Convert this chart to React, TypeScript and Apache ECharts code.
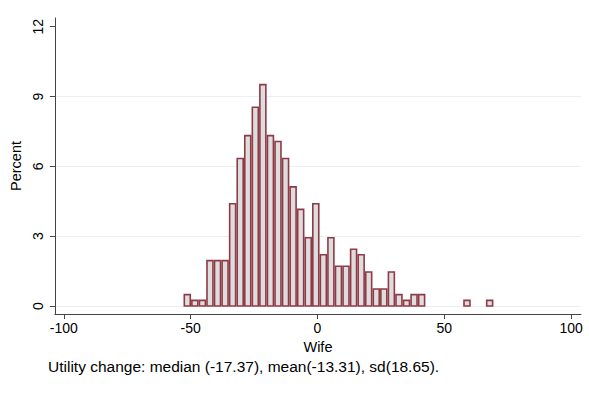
import React, { useEffect, useRef } from 'react';
import * as echarts from 'echarts';

// Histogram definition (Wife utility change)
const binStart = -52.8;
const binWidth = 2.98;
const percents = [
  0.49, 0.24, 0.24, 1.95, 1.95, 1.95, 4.39, 6.34, 7.32, 8.54, 9.51, 7.32, 7.07, 6.34,
  5.12, 4.15, 2.93, 4.39, 2.2, 2.93, 1.71, 1.71, 2.44, 2.2, 1.46, 0.73, 0.73, 1.46,
  0.49, 0.24, 0.49, 0.49, 0, 0, 0, 0, 0, 0.24, 0, 0, 0.24,
];
const xTicks = [-100, -50, 0, 50, 100];
const yTicks = [0, 3, 6, 9, 12];
const yGrid = [0, 3, 6, 9];
const caption = 'Utility change: median (-17.37), mean(-13.31), sd(18.65).';

const FONT = '"Liberation Sans", Arial, Helvetica, sans-serif';

export default function App() {
  const ref = useRef<HTMLDivElement>(null);
  useEffect(() => {
    if (!ref.current) return;
    const chart = echarts.init(ref.current, null, { renderer: 'svg' });
    const data: number[][] = [];
    percents.forEach((p, i) => {
      if (p > 0) data.push([binStart + i * binWidth, binStart + (i + 1) * binWidth, p]);
    });
    chart.setOption({
      animation: false,
      backgroundColor: '#ffffff',
      textStyle: { fontFamily: FONT },
      title: {
        text: caption,
        left: 43,
        top: 353,
        textStyle: { fontFamily: FONT, fontSize: 15.5, fontWeight: 'normal', color: '#000' },
      },
      grid: { left: 46, right: 8, top: 18, bottom: 92, containLabel: false },
      xAxis: {
        type: 'value',
        min: -103.5,
        max: 103.9,
        name: 'Wife',
        nameLocation: 'middle',
        nameGap: 24,
        nameTextStyle: { fontFamily: FONT, fontSize: 14.5, color: '#000' },
        axisLine: { show: true, onZero: false, lineStyle: { color: '#444', width: 1 } },
        axisTick: { show: true, length: 5, customValues: xTicks, lineStyle: { color: '#444' } },
        axisLabel: { customValues: xTicks, fontFamily: FONT, fontSize: 14, color: '#000', margin: 7 },
        splitLine: { show: false },
      },
      yAxis: [
        {
          type: 'value',
          min: -0.344,
          max: 12.374,
          name: 'Percent',
          nameLocation: 'middle',
          nameGap: 25,
          nameTextStyle: { fontFamily: FONT, fontSize: 14.5, color: '#000' },
          axisLine: { show: true, onZero: false, lineStyle: { color: '#444', width: 1 } },
          axisTick: { show: true, length: 5, customValues: yTicks, lineStyle: { color: '#444' } },
          axisLabel: { customValues: yTicks, rotate: 90, fontFamily: FONT, fontSize: 14, color: '#000', margin: 10 },
          splitLine: { show: false },
        },
        {
          type: 'value',
          min: -0.344,
          max: 12.374,
          position: 'left',
          axisLine: { show: false, onZero: false },
          axisTick: { show: false, customValues: yGrid },
          axisLabel: { show: false, customValues: yGrid },
          splitLine: { show: true, lineStyle: { color: '#eaf0f0', width: 1 } },
        },
      ],
      series: [
        {
          type: 'custom',
          z: 3,
          data,
          encode: { x: [0, 1], y: 2 },
          renderItem: (params: any, api: any) => {
            const lo = api.value(0);
            const hi = api.value(1);
            const v = api.value(2);
            const p0 = api.coord([lo, v]);
            const p1 = api.coord([hi, 0]);
            return {
              type: 'rect',
              shape: {
                x: p0[0] + 0.8,
                y: p0[1],
                width: p1[0] - p0[0] - 1.6,
                height: p1[1] - p0[1],
              },
              style: { fill: '#dddddd', stroke: '#8f3a46', lineWidth: 1.6 },
            };
          },
        },
      ],
    });
    return () => chart.dispose();
  }, []);
  return (
    <div
      ref={ref}
      style={{ position: 'fixed', left: 0, top: 0, width: 589, height: 406, background: '#fff' }}
    />
  );
}
